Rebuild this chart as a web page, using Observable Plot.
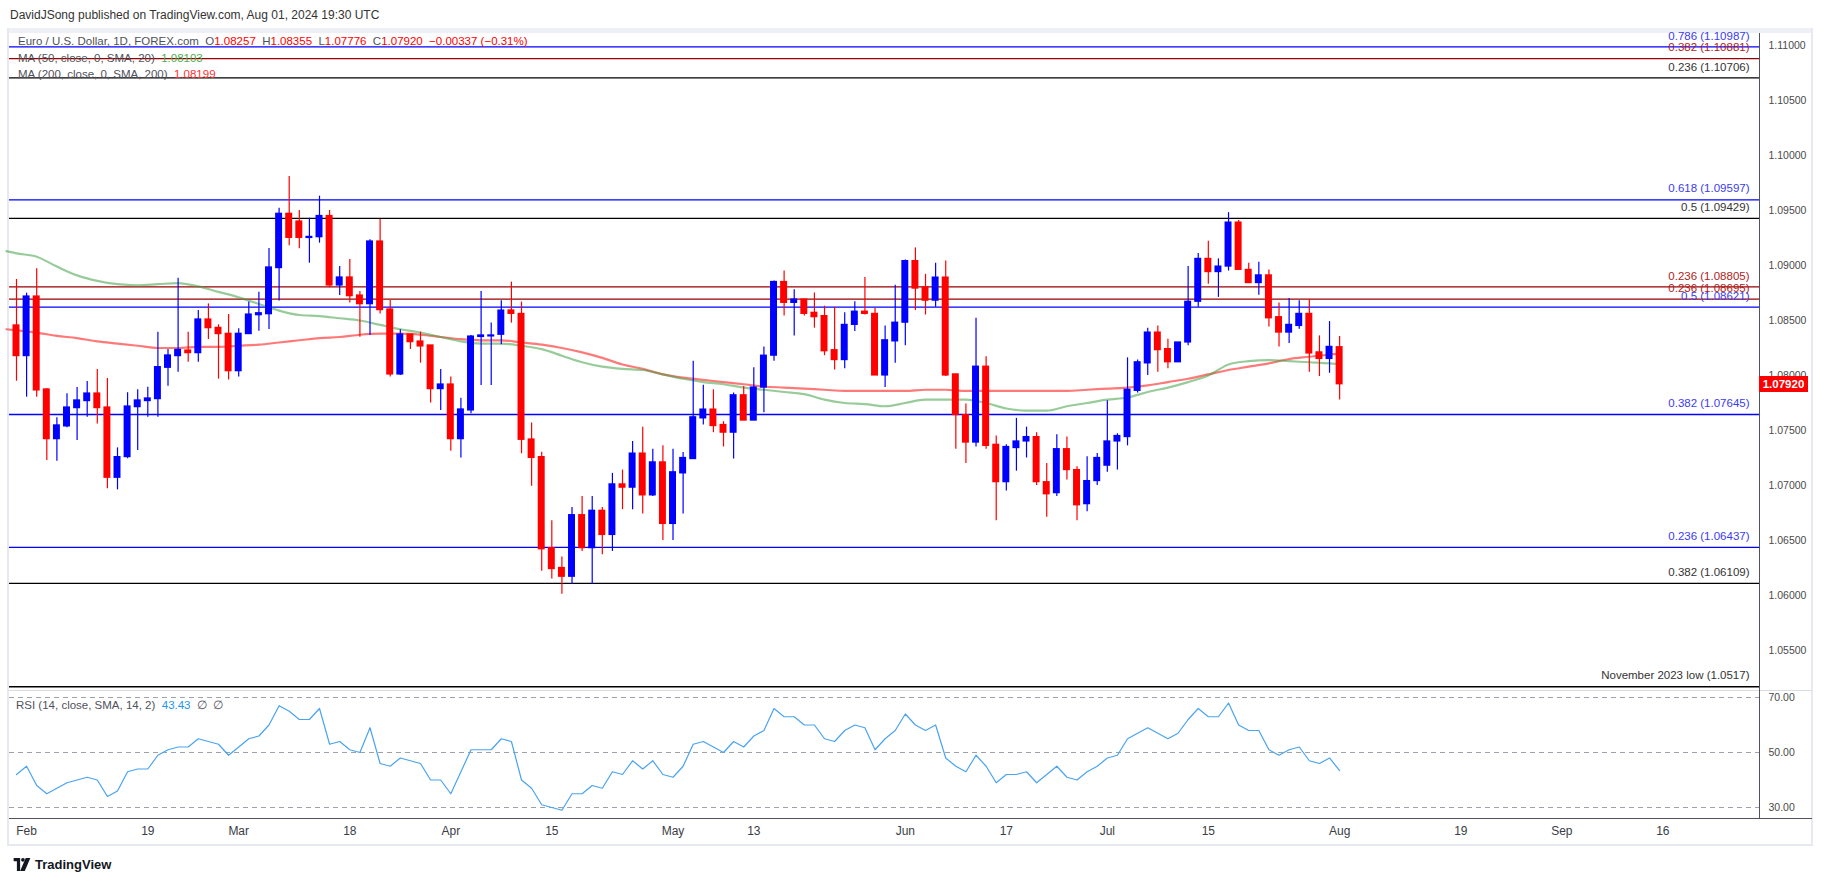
<!DOCTYPE html>
<html><head><meta charset="utf-8">
<script src="https://cdn.jsdelivr.net/npm/d3@7"></script>
<script src="https://cdn.jsdelivr.net/npm/@observablehq/plot@0.6"></script>
<style>
html,body{margin:0;padding:0;background:#fff;}
body{width:1835px;height:883px;overflow:hidden;position:relative;font-family:"Liberation Sans",Arial,sans-serif;}
.abs{position:absolute;white-space:nowrap;line-height:1;}
svg{overflow:visible;}
</style></head><body>
<div id="root"></div>
<script>
// ---------- DATA ----------
const open = [1.08455,1.08176,1.08718,1.07873,1.07421,1.07537,1.07703,1.07767,1.07836,1.07709,
1.0707,1.07258,1.07712,1.07767,1.07785,1.0807,1.08176,1.08227,1.08203,1.08509,
1.08433,1.08379,1.08039,1.08376,1.08548,1.08557,1.08976,1.0947,1.094,1.0925,
1.09257,1.0945,1.08818,1.08891,1.08727,1.08648,1.09218,1.086,1.08009,1.08373,
1.08309,1.08273,1.07876,1.07918,1.07421,1.07682,1.0835,1.08355,1.0837,1.08591,
1.0856,1.07418,1.07258,1.0643,1.0625,1.0617,1.0673,1.0643,1.0677,1.0655,
1.0701,1.0698,1.0729,1.0691,1.0721,1.0665,1.0711,1.0724,1.0761,1.0769,
1.0755,1.0748,1.0782,1.0759,1.0789,1.0818,1.0885,1.0866,1.0869,1.0857,
1.0854,1.0823,1.0814,1.0846,1.0858,1.0856,1.08,1.0831,1.0848,1.0904,
1.088,1.0868,1.0889,1.0801,1.0764,1.0739,1.0808,1.0737,1.0703,1.0734,
1.074,1.0744,1.0703,1.0693,1.0733,1.0714,1.0683,1.0704,1.0718,1.074,
1.0744,1.0786,1.0811,1.0839,1.0824,1.0812,1.083,1.0867,1.0906,1.0894,
1.0899,1.0939,1.0896,1.0884,1.0891,1.0853,1.0839,1.0845,1.0856,1.0821,
1.0815,1.08257];
const high = [1.08873,1.08748,1.0897,1.0788,1.07615,1.07833,1.07891,1.07945,1.08054,1.07973,
1.07342,1.07842,1.0787,1.07894,1.08394,1.08236,1.08885,1.08394,1.08591,1.08651,
1.08461,1.08554,1.08424,1.08667,1.08757,1.09154,1.0952,1.0981,1.095,1.0943,
1.0963,1.095,1.08991,1.09054,1.08764,1.09233,1.0942,1.08682,1.08415,1.08373,
1.08394,1.08273,1.08054,1.07985,1.07794,1.08364,1.08764,1.08476,1.0868,1.08849,
1.08667,1.07567,1.07303,1.0668,1.0635,1.068,1.069,1.069,1.068,1.0711,
1.0714,1.074,1.0753,1.0733,1.0736,1.0733,1.073,1.0813,1.0791,1.0787,
1.0758,1.0784,1.079,1.0807,1.0826,1.0886,1.0895,1.0878,1.0869,1.0875,
1.0863,1.0862,1.0857,1.0867,1.0889,1.0861,1.0845,1.0882,1.0905,1.0916,
1.0892,1.0902,1.0904,1.0801,1.0774,1.0852,1.0817,1.0745,1.0737,1.0761,
1.0753,1.0748,1.072,1.0746,1.0744,1.0717,1.0726,1.0729,1.0777,1.0747,
1.0816,1.0814,1.0843,1.0845,1.0833,1.083,1.0899,1.0911,1.0922,1.0906,
1.0948,1.0941,1.0902,1.0903,1.0896,1.0866,1.087,1.0868,1.0869,1.0836,
1.0849,1.08355];
const low = [1.07948,1.07803,1.07803,1.07227,1.07221,1.07524,1.07409,1.07621,1.07558,1.0697,
1.0696,1.07243,1.07318,1.07621,1.07621,1.07903,1.0803,1.08121,1.08121,1.08327,
1.07967,1.07958,1.07985,1.08376,1.08403,1.08418,1.08676,1.0918,1.09151,1.09021,
1.09203,1.08797,1.08727,1.08658,1.08348,1.08364,1.0856,1.07985,1.08,1.08236,
1.08112,1.07749,1.07682,1.07312,1.07249,1.07652,1.07909,1.07909,1.0828,1.08476,
1.07288,1.06994,1.0622,1.0615,1.0601,1.061,1.064,1.061,1.0637,1.064,
1.0678,1.0678,1.0674,1.069,1.065,1.065,1.0674,1.0724,1.0755,1.0748,
1.0735,1.0724,1.0759,1.0759,1.0766,1.0813,1.0854,1.0836,1.0854,1.0843,
1.0818,1.0805,1.0806,1.084,1.0855,1.08,1.0789,1.0811,1.0827,1.0859,
1.0855,1.0862,1.0799,1.0733,1.072,1.0735,1.0733,1.0668,1.0695,1.0713,
1.0725,1.07,1.0671,1.069,1.0705,1.0668,1.0676,1.07,1.0712,1.0714,
1.0736,1.0784,1.08,1.0803,1.0806,1.0812,1.0827,1.0862,1.0883,1.0871,
1.0895,1.0896,1.0884,1.0873,1.0844,1.0826,1.0829,1.0842,1.0803,1.0799,
1.0802,1.07776];
const close = [1.08176,1.08718,1.07864,1.07421,1.07546,1.07709,1.07773,1.07836,1.07703,1.0707,
1.07258,1.07718,1.07773,1.07791,1.08076,1.08182,1.08233,1.08203,1.08509,1.0843,
1.08376,1.08039,1.08379,1.08554,1.08566,1.08982,1.0947,1.09251,1.09251,1.0926,
1.0945,1.08818,1.08891,1.08721,1.08648,1.09218,1.08594,1.08009,1.08373,1.08303,
1.08264,1.07876,1.07918,1.07421,1.07691,1.08354,1.08364,1.08364,1.0859,1.0856,
1.07415,1.0725,1.0642,1.0624,1.0617,1.0673,1.0643,1.0677,1.0655,1.0701,
1.0698,1.0729,1.0691,1.0721,1.0665,1.0712,1.0725,1.0762,1.0769,1.0754,
1.0748,1.0782,1.0759,1.0789,1.0818,1.0885,1.0866,1.0869,1.0856,1.0853,
1.0822,1.0814,1.0846,1.0858,1.0856,1.08,1.0832,1.0848,1.0904,1.0879,
1.0868,1.0889,1.08,1.0764,1.0739,1.0808,1.0736,1.0703,1.0735,1.074,
1.0744,1.0703,1.0692,1.0733,1.0714,1.0682,1.0704,1.0725,1.074,1.0745,
1.0787,1.0812,1.0839,1.0823,1.0812,1.083,1.0867,1.0906,1.0894,1.0899,
1.0939,1.0896,1.0884,1.0891,1.0852,1.0839,1.0846,1.0856,1.082,1.0815,
1.0826,1.0792];

// moving averages, read at sampled candle indexes
const maIdx = [-1,0,2,4,6,8,10,12,14,16,18,20,22,24,26,28,30,32,34,36,38,40,42,44,46,48,50,52,54,56,58,60,62,64,66,68,70,72,74,76,78,80,82,84,86,88,90,92,94,96,98,100,102,104,106,108,110,112,114,116,118,120,122,124,126,128,130,131];
const ma50 = [1.0913,1.0911,1.0908,1.0899,1.0891,1.0886,1.0883,1.0882,1.0883,1.0884,1.0881,1.0876,1.0871,1.0865,1.0859,1.0855,1.0854,1.0852,1.085,1.0846,1.0842,1.0839,1.0835,1.0831,1.0829,1.0829,1.0827,1.0824,1.0818,1.0812,1.0808,1.0806,1.0805,1.0801,1.0797,1.0794,1.0792,1.0789,1.0787,1.0785,1.0783,1.0778,1.0775,1.0774,1.0772,1.0775,1.0778,1.0778,1.0778,1.0775,1.077,1.0768,1.0768,1.0772,1.0775,1.0778,1.078,1.0785,1.0789,1.0794,1.08,1.081,1.0813,1.0814,1.0813,1.0812,1.0811,1.08103];
const ma200 = [1.0842,1.0841,1.0839,1.0836,1.0834,1.0831,1.0829,1.0827,1.0825,1.0825,1.0826,1.0826,1.0827,1.0828,1.083,1.0832,1.0834,1.0835,1.0837,1.0838,1.0838,1.0837,1.0835,1.0833,1.0832,1.0832,1.083,1.0828,1.0825,1.0821,1.0816,1.081,1.0806,1.0801,1.0798,1.0796,1.0794,1.0792,1.079,1.0789,1.0788,1.0787,1.0786,1.0786,1.0786,1.0786,1.0787,1.0787,1.0786,1.0786,1.0786,1.0786,1.0786,1.0786,1.0787,1.0788,1.0789,1.0791,1.0794,1.0797,1.0801,1.0805,1.0808,1.0811,1.0815,1.0817,1.0819,1.08199];

const rsi = [42,45,38,35,37,39,40,41,40,34,36,43,44,44,49,51,52,52,55,54,
53,49,52,55,56,60,67,65,62,62,66,53,54,51,50,59,46,45,48,47,
46,40,40,35,43,51,51,51,55,54,40,37,31,30,29,35,35,38,37,43,
42,47,44,47,42,41,45,53,54,52,50,54,52,56,58,66,63,63,60,60,
55,54,58,60,59,51,55,58,64,60,58,60,48,45,43,49,45,39,42,42,
43,39,42,45,41,40,43,45,48,49,55,57,59,57,55,57,62,66,63,63,
68,60,58,58,51,49,51,52,47,46,48,43.43];

const fibName  = ["0.786","0.382","0.236","0.618","0.5","0.236","0.236","0.5","0.382","0.236","0.382","November 2023 low"];
const fibValue = [1.10987,1.10881,1.10706,1.09597,1.09429,1.08805,1.08695,1.08621,1.07645,1.06437,1.06109,1.0517];
const fibText  = ["1.10987","1.10881","1.10706","1.09597","1.09429","1.08805","1.08695","1.08621","1.07645","1.06437","1.06109","1.0517"];
const fibSet   = ["up","mid","base","up","base","mid","mid","up","up","up","base","base"];

const priceTicks = [1.055,1.06,1.065,1.07,1.075,1.08,1.085,1.09,1.095,1.1,1.105,1.11];
const rsiTicks = [30,50,70];
const dateTickIdx = [1,13,22,33,43,53,65,73,88,98,108,118,131,143,153,163];
const dateTickLabel = ["Feb","19","Mar","18","Apr","15","May","13","Jun","17","Jul","15","Aug","19","Sep","16"];

// ---------- BUILD ----------
const root = document.getElementById("root");
const FONT = '"Liberation Sans", Arial, sans-serif';
const candles = open.map((o,i)=>({i, o, h:high[i], l:low[i], c:close[i], up: close[i] >= o}));
const fibs = fibValue.map((v,k)=>({v, set:fibSet[k], label: fibName[k]+" ("+fibText[k]+")"}));
const lineCol = {up:"#0000ff", mid:"#990000", base:"#000000"};
const textCol = {up:"#3b3bf0", mid:"#b01c1c", base:"#333333"};
const UP = "#0000ff", DOWN = "#ff0000";
const xDomain = [-0.693, 172.57];
const W = 1803;

const price = Plot.plot({
  width: W, height: 657,
  marginLeft: 0, marginRight: 53, marginTop: 0, marginBottom: 0,
  style: {fontFamily: FONT, fontSize: "10.5px", color: "#4a4a4a", background: "transparent", overflow: "visible"},
  x: {domain: xDomain, axis: null},
  y: {domain: [1.05136, 1.11109], axis: "right", ticks: priceTicks, tickFormat: d => d.toFixed(5), tickSize: 0, tickPadding: 9, label: null},
  marks: [
    Plot.ruleY(fibs, {y: "v", stroke: d => lineCol[d.set], strokeWidth: 1.3}),
    Plot.line(maIdx.map((x,k)=>({x, y: ma200[k]})), {x:"x", y:"y", stroke:"#ff2020", strokeOpacity:0.6, strokeWidth:2.2, curve:"monotone-x"}),
    Plot.line(maIdx.map((x,k)=>({x, y: ma50[k]})), {x:"x", y:"y", stroke:"#43a047", strokeOpacity:0.55, strokeWidth:2.2, curve:"monotone-x"}),
    Plot.ruleX(candles, {x: "i", y1: "l", y2: "h", stroke: d => d.up ? UP : DOWN, strokeWidth: 1.2}),
    Plot.rect(candles, {x1: d => d.i - 0.345, x2: d => d.i + 0.345, y1: d => Math.min(d.o, d.c), y2: d => Math.max(d.o, d.c),
      fill: d => d.up ? UP : DOWN, insetTop: -0.6, insetBottom: -0.6}),
    Plot.text(fibs, {y: "v", text: "label", frameAnchor: "right", textAnchor: "end", dx: -10, dy: -11,
      fill: d => textCol[d.set], fontSize: 11.5, fontFamily: FONT})
  ]
});
price.style.position = "absolute"; price.style.left = "9px"; price.style.top = "33px";

const dateMap = new Map(dateTickIdx.map((d,k)=>[d, dateTickLabel[k]]));
const rsiPlot = Plot.plot({
  width: W, height: 157,
  marginLeft: 0, marginRight: 53, marginTop: 0, marginBottom: 30,
  style: {fontFamily: FONT, fontSize: "10.5px", color: "#4a4a4a", background: "transparent", overflow: "visible"},
  x: {domain: xDomain, ticks: dateTickIdx, tickFormat: d => dateMap.get(d), tickSize: 0, tickPadding: 8, label: null},
  y: {domain: [26, 72.18], axis: "right", ticks: rsiTicks, tickFormat: d => d.toFixed(2), tickSize: 0, tickPadding: 9, label: null},
  marks: [
    Plot.ruleY(rsiTicks, {stroke: "#9ea1aa", strokeDasharray: "5,4", strokeWidth: 1}),
    Plot.line(rsi.map((v,i)=>({i, v})), {x: "i", y: "v", stroke: "#4aa3f0", strokeWidth: 1.2})
  ]
});
rsiPlot.style.position = "absolute"; rsiPlot.style.left = "9px"; rsiPlot.style.top = "691px";
// bigger date labels
rsiPlot.querySelectorAll('g[aria-label="x-axis tick label"] text').forEach(t => { t.style.fontSize = "12px"; t.style.fill = "#3a3d45"; });

function box(l, t, w, h, bg){ const d = document.createElement("div"); d.className="abs"; Object.assign(d.style,{left:l+"px",top:t+"px",width:w+"px",height:h+"px",background:bg}); root.appendChild(d); return d; }
function txt(html, l, t, size, color, extra){ const d = document.createElement("div"); d.className="abs"; d.innerHTML = html; Object.assign(d.style,{left:l+"px",top:t+"px",fontSize:size+"px",color:color}, extra||{}); root.appendChild(d); return d; }

// frame
box(7, 28, 1806, 5, "#eef0f5");
box(7, 28, 2, 818, "#e6e9ef");
box(1811, 28, 2, 818, "#e6e9ef");
box(7, 844, 1806, 2, "#e6e9ef");
root.appendChild(price);
root.appendChild(rsiPlot);
box(9, 690, 1803, 1, "#d9dce3");
box(1759, 33, 1, 785, "#50535e");
box(9, 818, 1803, 1, "#50535e");

// current price label
const yNow = price.scale("y").apply(close[close.length-1]) + 33;
const lab = txt("1.07920", 1759, yNow - 8, 11.5, "#fff", {background:"#ff0000", width:"49px", height:"16px", lineHeight:"16px", textAlign:"center", fontWeight:"bold"});

// header
txt("DavidJSong published on TradingView.com, Aug 01, 2024 19:30 UTC", 10, 9, 12, "#333");
const G = "#4f525b", R = "#ff0000";
txt(`<span style="color:${G}">Euro / U.S. Dollar, 1D, FOREX.com&nbsp;&nbsp;O</span><span style="color:${R}">${open[131].toFixed(5)}</span><span style="color:${G}">&nbsp;&nbsp;H</span><span style="color:${R}">${high[131].toFixed(5)}</span><span style="color:${G}">&nbsp;&nbsp;L</span><span style="color:${R}">${low[131].toFixed(5)}</span><span style="color:${G}">&nbsp;&nbsp;C</span><span style="color:${R}">${close[131].toFixed(5)}</span><span style="color:${R}">&nbsp;&nbsp;−0.00337 (−0.31%)</span>`, 18, 36, 11.5, G);
txt(`<span style="color:${G}">MA (50, close, 0, SMA, 20)</span>&nbsp;&nbsp;<span style="color:#4caf50">${ma50[ma50.length-1].toFixed(5)}</span>`, 18, 53, 11.5, G);
txt(`<span style="color:${G}">MA (200, close, 0, SMA, 200)</span>&nbsp;&nbsp;<span style="color:#ff3030">${ma200[ma200.length-1].toFixed(5)}</span>`, 18, 69, 11.5, G);
txt(`<span style="color:${G}">RSI (14, close, SMA, 14, 2)</span>&nbsp;&nbsp;<span style="color:#2196f3">${rsi[rsi.length-1].toFixed(2)}</span>&nbsp;&nbsp;<span style="color:${G}">∅&nbsp;&nbsp;∅</span>`, 16, 700, 11.5, G);

// TradingView logo
const logo = document.createElement("div"); logo.className="abs";
Object.assign(logo.style,{left:"12px", top:"856px"});
logo.innerHTML = `<svg width="20" height="13" viewBox="0 0 36 28" style="vertical-align:middle"><path d="M0 0h14v28H7V7H0z" fill="#131722"/><circle cx="20" cy="4" r="4" fill="#131722"/><path d="M26 0h10L24 28H14z" fill="#131722"/></svg><span style="font-size:13px;font-weight:bold;color:#131722;vertical-align:middle;margin-left:3px">TradingView</span>`;
root.appendChild(logo);
</script>
</body></html>
